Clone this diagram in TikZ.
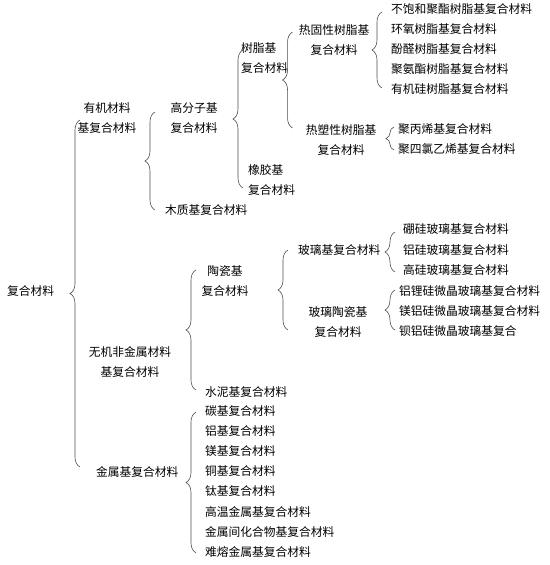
\documentclass[tikz,border=0pt]{standalone}
\usepackage{fontspec}
\setmainfont{Noto Sans CJK SC}
\usetikzlibrary{positioning,calc,decorations.pathreplacing}

\tikzset{
  txt/.style={inner sep=0pt, anchor=west, font=\fontsize{11.75pt}{20pt}\selectfont},
  two/.style={txt, anchor=center, align=center},
  twol/.style={txt, align=left},
  brc/.style={decorate, decoration={brace, amplitude=10pt}, draw=black!70, line width=0.6pt},
}

\begin{document}
\begin{tikzpicture}[x=1pt,y=-1pt]
    \useasboundingbox (0,0) rectangle (549,565);

    % Root
    \node[txt] (root) at (7,291) {复合材料};

    % Main classes
    \node[two] (org) at (107,118) {有机材料\\基复合材料};
    \node[two] (inorg) at (130,362) {无机非金属材料\\基复合材料};
    \node[txt] (metal) at (96,472) {金属基复合材料};
    \draw[brc] ($(metal.west)+(-16,-5)$) -- ($(metal.west |- org.west)+(-16,2)$);

    % Organic
    \node[two] (poly) at (194,118) {高分子基\\复合材料};
    \node[txt] (wood) at (165,210) {木质基复合材料};
    \draw[brc] ($(wood.west)+(-10,0)$) -- ($(wood.west |- poly.west)+(-10,-6)$);

    % Polymer
    \node[twol] (resin) at (241,58.5) {树脂基\\复合材料};
    \node[twol] (rubber) at (248,180) {橡胶基\\复合材料};
    \draw[brc] ($(rubber.west)+(-5,8)$) -- ($(rubber.west |- resin.west)+(-5,-8.5)$);

    % Resin
    \node[two] (tset) at (334,40) {热固性树脂基\\复合材料};
    \node[two] (tplast) at (341,140) {热塑性树脂基\\复合材料};
    \draw[brc] ($(tset.west)+(-6,88)$) -- ($(tset.west)+(-6,-8)$);

    % Thermoset
    \foreach \i/\t in {
            1/不饱和聚酯树脂基复合材料,
            2/环氧树脂基复合材料,
            3/酚醛树脂基复合材料,
            4/聚氨酯树脂基复合材料,
            5/有机硅树脂基复合材料
            } {
        \node[txt] (ts\i) at (391,-11+20*\i) {\t};
    }
    \draw[brc] ($(ts5.west)+(-9,-1)$) -- ($(ts1.west)+(-9,3)$);

    % Thermoplastic
    \node[txt] (tp1) at (398,129) {聚丙烯基复合材料};
    \node[txt] (tp2) at (398,149) {聚四氯乙烯基复合材料};
    \draw[brc, decoration={amplitude=8pt}] ($(tp2.west)+(-4,1)$) -- ($(tp1.west)+(-4,-2)$);

    % Inorganic
    \node[two] (cer) at (225,281.5) {陶瓷基\\复合材料};
    \node[txt] (cem) at (205,392) {水泥基复合材料};
    \draw[brc] ($(cem.west)+(-9,-2)$) -- ($(cem.west |- cer.west)+(-9,-11.5)$);

    % Ceramic
    \node[txt] (glass) at (298,250) {玻璃基复合材料};
    \node[two] (gcer) at (338,322) {玻璃陶瓷基\\复合材料};
    \draw[brc] ($(glass.west)+(-10,80)$) -- ($(glass.west)+(-10,0)$);

    % Glass
    \foreach \i/\t in {
            1/硼硅玻璃基复合材料,
            2/铝硅玻璃基复合材料,
            3/高硅玻璃基复合材料
            } {
        \node[txt] (g\i) at (403,209+20.5*\i) {\t};
    }
    \draw[brc] ($(g3.west)+(-8,1.5)$) -- ($(g1.west)+(-8,2.5)$);

    % Glass-ceramic
    \foreach \i/\t in {
            1/铝锂硅微晶玻璃基复合材料,
            2/镁铝硅微晶玻璃基复合材料,
            3/钡铝硅微晶玻璃基复合
            } {
        \node[txt] (gc\i) at (399,271+20*\i) {\t};
    }
    \draw[brc] ($(gc3.west)+(-4,-1)$) -- ($(gc1.west)+(-4,-1)$);

    % Metal
    \foreach \i/\t in {
            1/碳基复合材料,2/铝基复合材料,
            3/镁基复合材料,4/铜基复合材料,
            5/钛基复合材料,6/高温金属基复合材料,
            7/金属间化合物基复合材料,
            8/难熔金属基复合材料
            } {
        \node[txt] (m\i) at (205,391+20.1*\i) {\t};
    }
    \draw[brc] ($(m8.west)+(-9,1)$) -- ($(m1.west)+(-9,1)$);
\end{tikzpicture}
\end{document}
